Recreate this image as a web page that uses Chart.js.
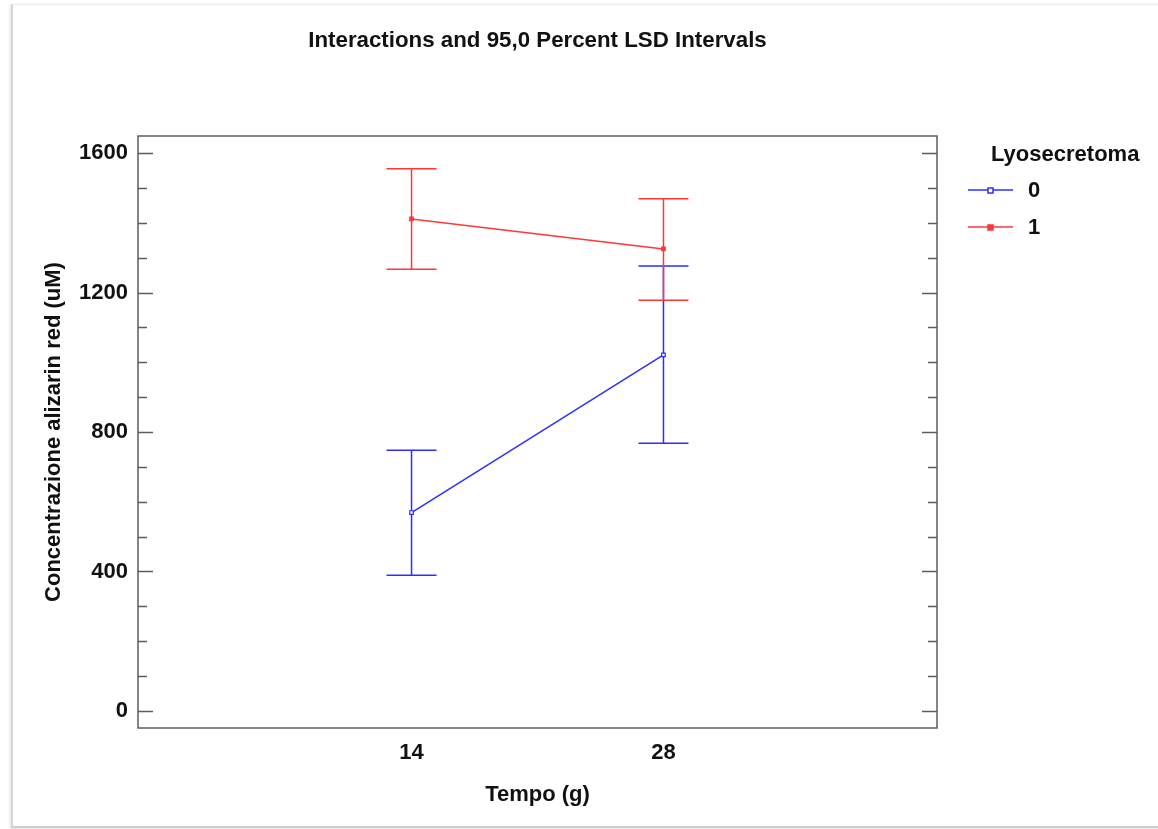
<!DOCTYPE html>
<html>
<head>
<meta charset="utf-8">
<title>Interactions and 95,0 Percent LSD Intervals</title>
<script src="https://cdn.jsdelivr.net/npm/chart.js@4.4.1/dist/chart.umd.min.js"></script>
<style>
  html, body { margin: 0; padding: 0; background: #fff; }
  #wrap { position: relative; width: 1158px; height: 829px; overflow: hidden; }
  #frame {
    position: absolute; left: 11px; top: 4px; width: 1160px; height: 821px;
    border-left: 2px solid #d4d4d4; border-top: 1px solid #ececec; border-bottom: 2px solid #cdcdcd;
    box-shadow: -1px 1px 3px rgba(0, 0, 0, 0.12);
  }
  #chart { position: absolute; left: 0; top: 0; }
</style>
</head>
<body>
<div id="wrap">
  <div id="frame"></div>
  <canvas id="chart" width="1158" height="829"></canvas>
</div>
<script>
// data
const days = [14, 28];
const groupNames = ['0', '1'];
const means0 = [569, 1021];
const lower0 = [389, 768];
const upper0 = [748, 1276];
const means1 = [1411, 1325];
const lower1 = [1267, 1178];
const upper1 = [1555, 1469];
const xTickValues = [14, 28];
const yTickValues = [0, 100, 200, 300, 400, 500, 600, 700, 800, 900, 1000, 1100, 1200, 1300, 1400, 1500, 1600];

const chartTitle = 'Interactions and 95,0 Percent LSD Intervals';
const legendTitle = 'Lyosecretoma';
const blue = 'rgb(45, 45, 255)';
const red = 'rgb(255, 55, 55)';
const FONT = "'Liberation Sans', Arial, sans-serif";
const textColor = '#111';
const frameColor = '#5c5c5c';

function points(means) {
  return days.map((d, i) => ({ x: d, y: means[i] }));
}

// error bars, frame, inner ticks, title and legend
const extras = {
  id: 'extras',
  beforeDatasetsDraw(chart) {
    const ctx = chart.ctx;
    const xs = chart.scales.x;
    const ys = chart.scales.y;
    // blue first, red on top
    chart.data.datasets.forEach((ds) => {
      ctx.save();
      ctx.strokeStyle = ds.borderColor;
      ctx.lineWidth = 1.5;
      days.forEach((d, i) => {
        const x = xs.getPixelForValue(d);
        const yl = ys.getPixelForValue(ds.errLow[i]);
        const yh = ys.getPixelForValue(ds.errHigh[i]);
        ctx.beginPath();
        ctx.moveTo(x, yl); ctx.lineTo(x, yh);
        ctx.moveTo(x - 25, yl); ctx.lineTo(x + 25, yl);
        ctx.moveTo(x - 25, yh); ctx.lineTo(x + 25, yh);
        ctx.stroke();
      });
      ctx.restore();
    });
  },
  afterDraw(chart) {
    const ctx = chart.ctx;
    const a = chart.chartArea;
    const ys = chart.scales.y;
    ctx.save();
    ctx.strokeStyle = frameColor;
    ctx.lineWidth = 1.5;
    ctx.strokeRect(a.left, a.top, a.right - a.left, a.bottom - a.top);
    ctx.beginPath();
    ys.ticks.forEach((t) => {
      const y = Math.round(ys.getPixelForValue(t.value)) + 0.5;
      const len = t.value % 400 === 0 ? 15 : 9;
      ctx.moveTo(a.left, y); ctx.lineTo(a.left + len, y);
      ctx.moveTo(a.right, y); ctx.lineTo(a.right - len, y);
    });
    ctx.stroke();

    // title
    ctx.fillStyle = textColor;
    ctx.font = 'bold 22.3px ' + FONT;
    ctx.textAlign = 'center';
    ctx.textBaseline = 'alphabetic';
    ctx.fillText(chartTitle, (a.left + a.right) / 2, 47);

    // legend
    ctx.font = 'bold 22px ' + FONT;
    ctx.textAlign = 'left';
    ctx.fillText(legendTitle, 991, 161);
    const rowY = [190, 227];
    chart.data.datasets.forEach((ds, i) => {
      const y = rowY[i];
      ctx.strokeStyle = ds.borderColor;
      ctx.lineWidth = 1.5;
      ctx.beginPath();
      ctx.moveTo(968, y); ctx.lineTo(1013, y);
      ctx.stroke();
      ctx.fillStyle = ds.pointBackgroundColor;
      ctx.fillRect(988, y - 2, 5, 5);
      ctx.strokeRect(988, y - 2, 5, 5);
      ctx.fillStyle = textColor;
      ctx.fillText(ds.label, 1028, y + 7);
    });
    ctx.restore();
  }
};

const ctx = document.getElementById('chart').getContext('2d');
const chart = new Chart(ctx, {
  type: 'line',
  data: {
    datasets: [
      {
        label: groupNames[0],
        data: points(means0),
        errLow: lower0,
        errHigh: upper0,
        borderColor: blue,
        borderWidth: 1.5,
        pointStyle: 'rect',
        pointRadius: 2.5,
        pointBorderWidth: 1.2,
        pointBackgroundColor: '#fff',
        pointBorderColor: blue,
        order: 1,
      },
      {
        label: groupNames[1],
        data: points(means1),
        errLow: lower1,
        errHigh: upper1,
        borderColor: red,
        borderWidth: 1.5,
        pointStyle: 'rect',
        pointRadius: 2.5,
        pointBorderWidth: 1.2,
        pointBackgroundColor: red,
        pointBorderColor: red,
        order: 0,
      },
    ],
  },
  options: {
    responsive: false,
    animation: false,
    layout: { padding: { left: 0, top: 136, right: 221, bottom: 0 } },
    plugins: {
      legend: { display: false },
      tooltip: { enabled: false },
      title: { display: false },
    },
    scales: {
      x: {
        type: 'linear',
        min: -1.2,
        max: 43.2,
        afterBuildTicks: (s) => { s.ticks = xTickValues.map((v) => ({ value: v })); },
        afterFit: (s) => { s.height = 101; },
        grid: { display: false },
        border: { display: false },
        ticks: { color: textColor, padding: 4, font: { family: FONT, size: 22, weight: 'bold' } },
        title: {
          display: true,
          text: 'Tempo (g)',
          color: textColor,
          font: { family: FONT, size: 22, weight: 'bold' },
          padding: { top: 0, bottom: 21 },
        },
      },
      y: {
        min: -49,
        max: 1649,
        afterBuildTicks: (s) => { s.ticks = yTickValues.map((v) => ({ value: v })); },
        afterFit: (s) => { s.width = 138; },
        grid: { display: false },
        border: { display: false },
        ticks: {
          autoSkip: false,
          color: textColor,
          padding: 2,
          font: { family: FONT, size: 22, weight: 'bold' },
          callback: (v) => (v % 400 === 0 ? String(v) : ''),
        },
        title: {
          display: true,
          text: 'Concentrazione alizarin red (uM)',
          color: textColor,
          font: { family: FONT, size: 22, weight: 'bold' },
          padding: { top: 41, bottom: 0 },
        },
      },
    },
  },
  plugins: [extras],
});
</script>
</body>
</html>
